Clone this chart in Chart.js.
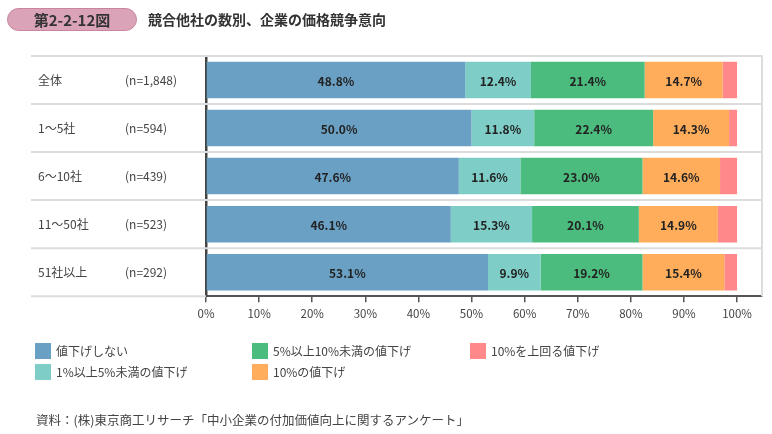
<!DOCTYPE html>
<html lang="ja">
<head>
<meta charset="utf-8">
<script src="https://cdn.jsdelivr.net/npm/chart.js@4/dist/chart.umd.min.js"></script>
<style>
  html, body { margin:0; padding:0; background:#fff; }
  body { width:772px; height:434px; position:relative; overflow:hidden; font-family:"Noto Sans CJK JP","Noto Sans",sans-serif; color:#444; }
  #wrap { position:absolute; left:0; top:0; width:772px; height:434px; }
  .pill { position:absolute; left:7px; top:8px; width:128px; height:21px; border:1px solid #c9849e; background:#dba3b8; border-radius:12px; font-weight:bold; font-size:15px; line-height:21px; text-align:center; color:#333; }
  .title { position:absolute; left:148px; top:8px; font-weight:bold; font-size:14px; line-height:23px; color:#333; }
  .leg { position:absolute; font-size:12px; line-height:16px; color:#444; white-space:nowrap; }
  .leg i { position:absolute; left:0; top:0; width:16px; height:16px; }
  .leg span { position:absolute; top:0; }
  .foot { position:absolute; left:36px; top:411px; font-size:12.5px; line-height:18px; color:#444; white-space:nowrap; }
</style>
</head>
<body>
<div id="wrap"><canvas id="c" width="772" height="434"></canvas></div>
<div class="pill">第2-2-12図</div>
<div class="title">競合他社の数別、企業の価格競争意向</div>
<div id="legend"></div>
<div class="foot">資料：(株)東京商工リサーチ「中小企業の付加価値向上に関するアンケート」</div>
<script>
const categories = ["全体", "1～5社", "6～10社", "11～50社", "51社以上"];
const sampleSizes = ["(n=1,848)", "(n=594)", "(n=439)", "(n=523)", "(n=292)"];
const seriesNames = ["値下げしない", "1%以上5%未満の値下げ", "5%以上10%未満の値下げ", "10%の値下げ", "10%を上回る値下げ"];
const noCut      = [48.8, 50.0, 47.6, 46.1, 53.1];
const cut1to5    = [12.4, 11.8, 11.6, 15.3, 9.9];
const cut5to10   = [21.4, 22.4, 23.0, 20.1, 19.2];
const cut10      = [14.7, 14.3, 14.6, 14.9, 15.4];
const cutOver10  = [2.7, 1.5, 3.2, 3.6, 2.4];
const tickValues = [0, 10, 20, 30, 40, 50, 60, 70, 80, 90, 100];

const seriesValues = [noCut, cut1to5, cut5to10, cut10, cutOver10];
const colors = ["#6aa0c4", "#7ecdc7", "#4bbc7d", "#ffad5b", "#ff898a"];
const showLabel = [true, true, true, true, false];

// legend (column-major, 3 columns)
const legPos = [[35,343],[35,364],[252,343],[252,364],[470,343]];
const legEl = document.getElementById('legend');
seriesNames.forEach((n, i) => {
  const d = document.createElement('div');
  d.className = 'leg';
  d.style.left = legPos[i][0] + 'px';
  d.style.top = legPos[i][1] + 'px';
  d.innerHTML = '<i style="background:' + colors[i] + '"></i><span style="left:21px">' + n + '</span>';
  legEl.appendChild(d);
});

Chart.defaults.font.family = '"Noto Sans CJK JP","Noto Sans",sans-serif';

const framePlugin = {
  id: 'frame',
  beforeDatasetsDraw(chart) {
    const {ctx, chartArea} = chart;
    const y = chart.scales.y;
    const n = categories.length;
    ctx.save();
    ctx.strokeStyle = '#dcdcdc';
    ctx.lineWidth = 2;
    const bounds = [];
    for (let i = 0; i <= n; i++) {
      let py;
      if (i === 0) py = chartArea.top;
      else if (i === n) py = chartArea.bottom;
      else py = (y.getPixelForValue(i - 1) + y.getPixelForValue(i)) / 2;
      bounds.push(py);
    }
    bounds.forEach((py, i) => {
      ctx.beginPath();
      ctx.moveTo(31, py);
      ctx.lineTo(i === n ? chartArea.left : chartArea.right, py);
      ctx.stroke();
    });
    ctx.beginPath();
    ctx.moveTo(chartArea.right, chartArea.top - 1);
    ctx.lineTo(chartArea.right, chartArea.bottom);
    ctx.stroke();
    ctx.restore();
  },
  afterDraw(chart) {
    const {ctx} = chart;
    const y = chart.scales.y;
    ctx.save();
    ctx.fillStyle = '#444';
    ctx.font = '12px "Noto Sans CJK JP","Noto Sans",sans-serif';
    ctx.textBaseline = 'middle';
    ctx.textAlign = 'left';
    categories.forEach((c, i) => {
      const py = y.getPixelForValue(i);
      ctx.fillText(c, 38, py);
      ctx.fillText(sampleSizes[i], 125, py);
    });
    // segment labels
    ctx.font = 'bold 12px "Noto Sans CJK JP","Noto Sans",sans-serif';
    ctx.fillStyle = '#222';
    ctx.textAlign = 'center';
    chart.data.datasets.forEach((ds, di) => {
      if (!showLabel[di]) return;
      const meta = chart.getDatasetMeta(di);
      meta.data.forEach((bar, i) => {
        const cx = (bar.x + bar.base) / 2;
        ctx.fillText(ds.data[i].toFixed(1) + '%', cx, bar.y + 1);
      });
    });
    ctx.restore();
  }
};

new Chart(document.getElementById('c'), {
  type: 'bar',
  data: {
    labels: categories,
    datasets: seriesNames.map((name, i) => ({
      label: name,
      data: seriesValues[i],
      backgroundColor: colors[i],
      borderWidth: 0,
      categoryPercentage: 1,
      barPercentage: 0.76
    }))
  },
  options: {
    indexAxis: 'y',
    responsive: false,
    animation: false,
    layout: { padding: { left: 206, top: 56, right: 10, bottom: 108 } },
    plugins: { legend: { display: false }, tooltip: { enabled: false } },
    scales: {
      x: {
        stacked: true,
        min: 0,
        max: 104.7,
        afterBuildTicks(axis) { axis.ticks = tickValues.map(v => ({ value: v })); },
        grid: { drawOnChartArea: false, drawTicks: true, tickLength: 6, color: '#555', lineWidth: 1.5 },
        border: { display: true, color: '#555', width: 2 },
        ticks: { callback: v => v + '%', color: '#444', font: { size: 11.5 }, padding: 5, maxRotation: 0, autoSkip: false }
      },
      y: {
        stacked: true,
        offset: true,
        afterFit(axis) { axis.width = 0; },
        grid: { display: false },
        border: { display: true, color: '#444', width: 2.5 },
        ticks: { display: false }
      }
    }
  },
  plugins: [framePlugin]
});
</script>
</body>
</html>
